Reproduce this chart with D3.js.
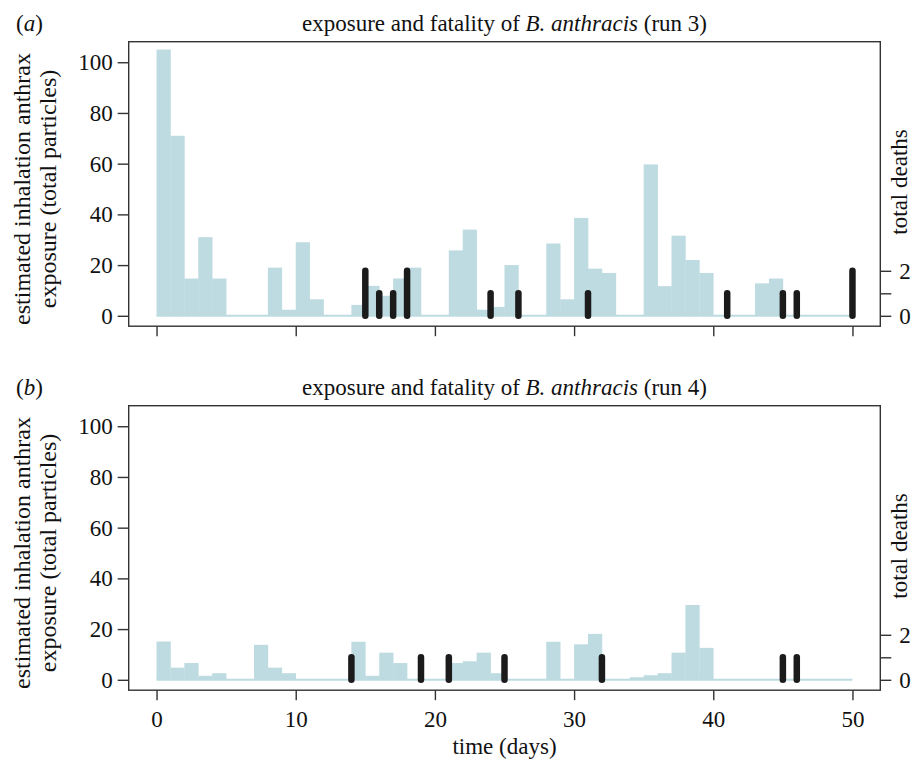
<!DOCTYPE html>
<html lang="en">
<head>
    <meta charset="UTF-8">
    <title>exposure and fatality of B. anthracis</title>
    <script src="https://d3js.org/d3.v7.min.js"></script>
    <style>
        body {
            margin: 0;
            background: #fff;
        }
        svg text {
            font-family: "Liberation Serif", "Times New Roman", serif;
        }
        .frame {
            fill: none;
            stroke: #333;
            stroke-width: 1.4;
        }
        .axis path { display: none; }
        .axis line { stroke: #333; stroke-width: 1.4; }
        .axis text {
            font-family: "Liberation Serif", serif;
            font-size: 23px;
            fill: #111;
        }
        .label {
            font-family: "Liberation Serif", serif;
            font-size: 23px;
            fill: #111;
        }
        .ylab { font-size: 24px; }
    </style>
</head>
<body>
    <svg id="chart" width="913" height="760"></svg>

    <script>
        // days 0..49, exposure per day (total particles)
        const days = d3.range(0, 50);
        const exposureRun3 = [105, 71, 14.7, 31, 14.7, 0, 0, 0, 19, 2.4,
                              29, 6.5, 0, 0, 4.3, 11.8, 7.9, 14.7, 19, 0,
                              0, 25.8, 34, 2.4, 3.5, 20, 0, 0, 28.5, 6.5,
                              38.6, 18.6, 16.9, 0, 0, 59.7, 11.7, 31.6, 22, 16.9,
                              0, 0, 0, 12.8, 14.7, 0, 0, 0, 0, 0];
        const exposureRun4 = [15.1, 4.8, 6.6, 1.6, 2.6, 0, 0, 13.8, 4.8, 2.6,
                              0, 0, 0, 0, 15, 1.6, 10.7, 6.6, 0, 0,
                              0, 6.6, 7.3, 10.7, 2.6, 0, 0, 0, 15, 0,
                              14, 18.1, 0, 0, 1.0, 1.8, 2.6, 10.7, 29.5, 12.6,
                              0, 0, 0, 0, 0, 0, 0, 0, 0, 0];

        // death events
        const deathDaysRun3 = [15, 16, 17, 18, 24, 26, 31, 41, 45, 46, 50];
        const deathCountRun3 = [2, 1, 1, 2, 1, 1, 1, 1, 1, 1, 2];
        const deathDaysRun4 = [14, 19, 21, 25, 32, 45, 46];
        const deathCountRun4 = [1, 1, 1, 1, 1, 1, 1];

        const xTicks = [0, 10, 20, 30, 40, 50];
        const yTicks = [0, 20, 40, 60, 80, 100];
        const deathTicks = [0, 1, 2];

        const svg = d3.select("#chart");
        const left = 128.7, right = 880.3, plotH = 284.5;
        const barColor = "#bddbe1";

        const x = d3.scaleLinear().domain([-2, 52]).range([left, right]);

        function drawPanel(top, letter, run, exposure, deathDays, deathCount, showXLabels) {
            const y = d3.scaleLinear().domain([-4.1, 108.1]).range([top + plotH, top]);
            const yd = d3.scaleLinear().domain([0, 2]).range([y(0), y(0) - 45]);
            const g = svg.append("g");

            // bars
            g.selectAll(".bar")
                .data(days)
                .enter()
                .append("rect")
                .attr("x", d => x(d))
                .attr("width", d => x(d + 1) - x(d) + 0.3)
                .attr("y", d => y(exposure[d]))
                .attr("height", d => y(0) - y(exposure[d]))
                .attr("fill", barColor);

            // zero baseline
            g.append("line")
                .attr("x1", x(0)).attr("x2", x(50))
                .attr("y1", y(0)).attr("y2", y(0))
                .attr("stroke", barColor)
                .attr("stroke-width", 2);

            // deaths
            g.selectAll(".death")
                .data(deathDays)
                .enter()
                .append("line")
                .attr("x1", d => x(d)).attr("x2", d => x(d))
                .attr("y1", yd(0))
                .attr("y2", (d, i) => yd(deathCount[i]))
                .attr("stroke", "#1b1b1b")
                .attr("stroke-width", 6.5)
                .attr("stroke-linecap", "round");

            g.append("rect")
                .attr("class", "frame")
                .attr("x", left).attr("y", top)
                .attr("width", right - left).attr("height", plotH);

            g.append("g")
                .attr("class", "axis")
                .attr("transform", `translate(${left},0)`)
                .call(d3.axisLeft(y).tickValues(yTicks).tickSize(11).tickPadding(5));

            g.append("g")
                .attr("class", "axis")
                .attr("transform", `translate(${right},0)`)
                .call(d3.axisRight(yd).tickValues(deathTicks).tickSize(11).tickPadding(8)
                    .tickFormat(d => d === 1 ? "" : d));

            g.append("g")
                .attr("class", "axis")
                .attr("transform", `translate(0,${top + plotH})`)
                .call(d3.axisBottom(x).tickValues(xTicks).tickSize(10).tickPadding(10)
                    .tickFormat(d => showXLabels ? d : ""));

            // panel letter + title
            const lt = g.append("text")
                .attr("class", "label")
                .attr("x", 16).attr("y", top - 11);
            lt.append("tspan").text("(");
            lt.append("tspan").attr("font-style", "italic").text(letter);
            lt.append("tspan").text(")");

            const tt = g.append("text")
                .attr("class", "label")
                .attr("x", (left + right) / 2).attr("y", top - 11)
                .attr("text-anchor", "middle");
            tt.append("tspan").text("exposure and fatality of ");
            tt.append("tspan").attr("font-style", "italic").text("B. anthracis");
            tt.append("tspan").text(` (run ${run})`);

            // axis titles
            const cy = top + plotH / 2 + 5;
            const yl = g.append("text")
                .attr("class", "label ylab")
                .attr("transform", `translate(30,${cy}) rotate(-90)`)
                .attr("text-anchor", "middle");
            yl.append("tspan").attr("x", 0).attr("dy", 0).text("estimated inhalation anthrax");
            yl.append("tspan").attr("x", 0).attr("dy", 26).text("exposure (total particles)");

            g.append("text")
                .attr("class", "label")
                .attr("transform", `translate(907,${top + plotH / 2 - 2}) rotate(-90)`)
                .attr("text-anchor", "middle")
                .text("total deaths");
        }

        drawPanel(41.7, "a", 3, exposureRun3, deathDaysRun3, deathCountRun3, false);
        drawPanel(405.7, "b", 4, exposureRun4, deathDaysRun4, deathCountRun4, true);

        svg.append("text")
            .attr("class", "label")
            .attr("x", (x(0) + x(50)) / 2)
            .attr("y", 754)
            .attr("text-anchor", "middle")
            .text("time (days)");
    </script>
</body>
</html>
